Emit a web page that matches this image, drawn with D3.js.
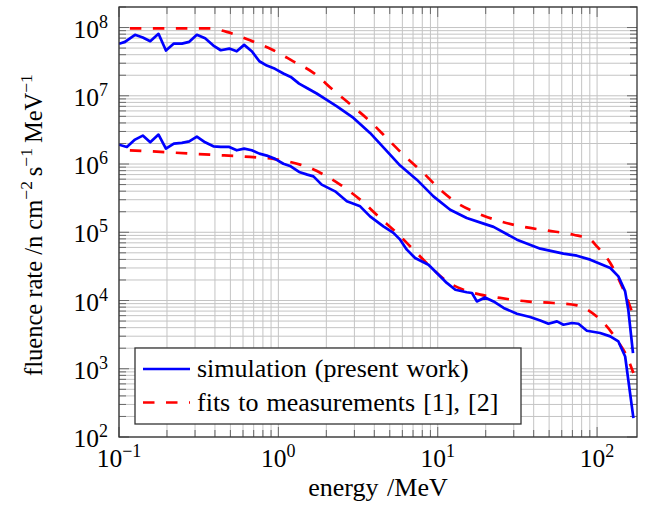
<!DOCTYPE html>
<html>
<head>
<meta charset="utf-8">
<script src="https://cdn.jsdelivr.net/npm/d3@7"></script>
<style>
  body { margin: 0; background: #fff; }
  svg { display: block; font-family: 'Liberation Serif', 'Times New Roman', serif; }
</style>
</head>
<body>
<div class="chart"></div>
<script>
// upper simulation curve
const simUpperE = [0.1, 0.109, 0.126, 0.141, 0.157, 0.177, 0.197, 0.221, 0.248, 0.276, 0.308, 0.347, 0.391, 0.435, 0.492, 0.548, 0.61, 0.681, 0.76, 0.846, 0.953, 1.075, 1.196, 1.349, 1.52, 1.74, 2.0, 2.33, 2.96, 3.76, 4.7, 5.81, 7.39, 9.4, 11.97, 15.2, 19.4, 22.4, 31.4, 44.0, 61.5, 74.7, 90.6, 121, 136, 150, 157, 168];
const simUpperF = [5.77e7, 6.17e7, 7.82e7, 7.13e7, 6.3e7, 8.09e7, 4.6e7, 5.82e7, 5.82e7, 6.17e7, 7.82e7, 6.97e7, 5.45e7, 4.65e7, 4.92e7, 4.49e7, 5.57e7, 4.49e7, 3.21e7, 2.77e7, 2.48e7, 2.12e7, 1.89e7, 1.51e7, 1.29e7, 1.08e7, 8.8e6, 7.0e6, 4.74e6, 2.86e6, 1.63e6, 9.5e5, 5.9e5, 3.36e5, 2.14e5, 1.62e5, 1.34e5, 1.2e5, 7.8e4, 5.75e4, 4.86e4, 4.54e4, 3.97e4, 3.0e4, 2.26e4, 1.36e4, 7.3e3, 1.7e3];

// lower simulation curve
const simLowerE = [0.1, 0.112, 0.126, 0.141, 0.157, 0.177, 0.197, 0.221, 0.248, 0.276, 0.308, 0.347, 0.391, 0.435, 0.492, 0.548, 0.61, 0.681, 0.76, 0.846, 0.953, 1.075, 1.196, 1.349, 1.52, 1.66, 1.87, 2.27, 2.69, 3.26, 3.76, 4.56, 5.27, 5.81, 6.4, 7.21, 8.75, 9.87, 11.4, 12.9, 15.2, 16.4, 17.6, 19.8, 22.4, 25.9, 31.4, 38.0, 44.0, 49.5, 56.0, 61.5, 69.5, 76.4, 86.3, 104.5, 121, 136, 150, 169];
const simLowerF = [1.92e6, 1.78e6, 2.28e6, 2.61e6, 2.08e6, 2.7e6, 1.68e6, 1.99e6, 2.04e6, 2.15e6, 2.52e6, 2.08e6, 1.82e6, 1.78e6, 1.78e6, 1.59e6, 1.68e6, 1.59e6, 1.42e6, 1.33e6, 1.19e6, 1.01e6, 9.25e5, 7.66e5, 7.0e5, 6.6e5, 4.99e5, 3.98e5, 2.84e5, 2.4e5, 1.71e5, 1.22e5, 9.8e4, 7.8e4, 5.56e4, 4.2e4, 3.35e4, 2.53e4, 1.81e4, 1.44e4, 1.32e4, 1.29e4, 9.7e3, 1.11e4, 9.7e3, 7.77e3, 6.4e3, 5.73e3, 5.11e3, 4.57e3, 4.94e3, 4.42e3, 4.68e3, 4.57e3, 3.61e3, 3.34e3, 2.98e3, 2.51e3, 1.51e3, 189];

// fits to measurements
const fitUpperE = [0.117, 0.372, 0.474, 0.664, 0.931, 1.24, 1.66, 2.21, 2.89, 3.76, 4.83, 6.15, 8.13, 10.35, 13.2, 17.6, 24.6, 34.5, 48.4, 71.1, 90.6, 99.7, 121, 140, 161, 169];
const fitUpperF = [9.7e7, 9.7e7, 8.65e7, 6.5e7, 4.65e7, 3.2e7, 2.17e7, 1.21e7, 7.18e6, 4.23e6, 2.35e6, 1.34e6, 7.4e5, 4.22e5, 2.69e5, 1.92e5, 1.45e5, 1.2e5, 1.06e5, 9.2e4, 7.8e4, 6.2e4, 3.55e4, 1.81e4, 8.2e3, 5.85e3];

const fitLowerE = [0.117, 0.199, 0.372, 0.664, 0.931, 1.37, 1.58, 1.92, 2.44, 3.26, 4.35, 5.53, 7.04, 8.96, 11.4, 14.5, 18.5, 24.6, 36.3, 53.2, 74.7, 90.6, 110, 133, 154, 169];
const fitLowerF = [1.59e6, 1.49e6, 1.37e6, 1.27e6, 1.19e6, 9.8e5, 8.8e5, 7.0e5, 4.99e5, 3.01e5, 1.62e5, 9.8e4, 5.56e4, 3.16e4, 1.91e4, 1.44e4, 1.22e4, 1.09e4, 9.7e3, 9.2e3, 8.5e3, 6.9e3, 4.68e3, 2.66e3, 1.51e3, 865];

const xTickExp = [-1, 0, 1, 2];
const yTickExp = [2, 3, 4, 5, 6, 7, 8];
const legendLabels = ['simulation (present work)', 'fits to measurements [1], [2]'];

const containerWidth = 652;
const containerHeight = 515;
const margin = { top: 7, right: 15, bottom: 78, left: 119 };
const graphWidth = containerWidth - margin.left - margin.right;
const graphHeight = containerHeight - margin.top - margin.bottom;

const svg = d3
  .select('.chart')
  .append('svg')
  .attr('width', containerWidth)
  .attr('height', containerHeight);

const graph = svg
  .append('g')
  .attr('transform', `translate(${margin.left}, ${margin.top})`);

const x = d3.scaleLog().domain([0.1, 178]).range([0, graphWidth]);
const y = d3.scaleLog().domain([100, 2e8]).range([graphHeight, 0]);

// minor + major values per decade
const minorValues = (exps, domain) => {
  const out = [];
  for (let e = exps[0]; e <= exps[exps.length - 1]; e++) {
    for (let m = 1; m <= 9; m++) {
      const v = m * Math.pow(10, e);
      if (v >= domain[0] && v <= domain[1] * 1.0001) out.push({ v, major: m === 1 });
    }
  }
  return out;
};
const xVals = minorValues(xTickExp, x.domain());
const yVals = minorValues(yTickExp, y.domain());

// grid
graph
  .append('g')
  .selectAll('line')
  .data(xVals)
  .enter()
  .append('line')
  .attr('x1', (d) => x(d.v))
  .attr('x2', (d) => x(d.v))
  .attr('y1', 0)
  .attr('y2', graphHeight)
  .attr('stroke', '#c4c4c4')
  .attr('stroke-width', 1);

graph
  .append('g')
  .selectAll('line')
  .data(yVals)
  .enter()
  .append('line')
  .attr('x1', 0)
  .attr('x2', graphWidth)
  .attr('y1', (d) => y(d.v))
  .attr('y2', (d) => y(d.v))
  .attr('stroke', '#c4c4c4')
  .attr('stroke-width', 1);

// inward ticks on all sides
const tickG = graph.append('g').attr('stroke', '#6a6a6a').attr('stroke-width', 1);
xVals.forEach((d) => {
  const len = d.major ? 10 : 7;
  tickG.append('line').attr('x1', x(d.v)).attr('x2', x(d.v)).attr('y1', graphHeight).attr('y2', graphHeight - len);
  tickG.append('line').attr('x1', x(d.v)).attr('x2', x(d.v)).attr('y1', 0).attr('y2', len);
});
yVals.forEach((d) => {
  const len = d.major ? 10 : 7;
  tickG.append('line').attr('x1', 0).attr('x2', len).attr('y1', y(d.v)).attr('y2', y(d.v));
  tickG.append('line').attr('x1', graphWidth).attr('x2', graphWidth - len).attr('y1', y(d.v)).attr('y2', y(d.v));
});

// curves
const zip = (es, fs) => es.map((e, i) => [e, fs[i]]);
const simLine = d3.line().x((d) => x(d[0])).y((d) => y(d[1]));
const fitLine = d3.line().x((d) => x(d[0])).y((d) => y(d[1])).curve(d3.curveMonotoneX);

const clip = svg.append('clipPath').attr('id', 'plot-clip');
clip.append('rect').attr('width', graphWidth).attr('height', graphHeight);
const curves = graph.append('g').attr('clip-path', 'url(#plot-clip)');

[zip(fitUpperE, fitUpperF), zip(fitLowerE, fitLowerF)].forEach((data) => {
  curves
    .append('path')
    .attr('d', fitLine(data))
    .attr('fill', 'none')
    .attr('stroke', '#ff0000')
    .attr('stroke-width', 2.7)
    .attr('stroke-dasharray', '11.5,11.5');
});
[zip(simUpperE, simUpperF), zip(simLowerE, simLowerF)].forEach((data) => {
  curves
    .append('path')
    .attr('d', simLine(data))
    .attr('fill', 'none')
    .attr('stroke', '#0000ff')
    .attr('stroke-width', 2.7)
    .attr('stroke-linejoin', 'round');
});

// frame
graph
  .append('rect')
  .attr('width', graphWidth)
  .attr('height', graphHeight)
  .attr('fill', 'none')
  .attr('stroke', '#333')
  .attr('stroke-width', 1.3);

// tick labels
const powerLabel = (sel, exp) => {
  sel.append('tspan').text('10');
  sel
    .append('tspan')
    .attr('dy', -10)
    .attr('font-size', 18)
    .text(exp < 0 ? '\u2212' + Math.abs(exp) : exp);
};

xTickExp.forEach((e) => {
  const t = graph
    .append('text')
    .attr('x', x(Math.pow(10, e)))
    .attr('y', graphHeight + 29.5)
    .attr('text-anchor', 'middle')
    .attr('font-size', 25.5)
    .attr('fill', '#000');
  powerLabel(t, e);
});
yTickExp.forEach((e) => {
  const t = graph
    .append('text')
    .attr('x', -11)
    .attr('y', y(Math.pow(10, e)) + 10)
    .attr('text-anchor', 'end')
    .attr('font-size', 25.5)
    .attr('fill', '#000');
  powerLabel(t, e);
});

// axis titles
svg
  .append('text')
  .attr('x', margin.left + graphWidth / 2)
  .attr('y', 495.5)
  .attr('text-anchor', 'middle')
  .attr('font-size', 26)
  .attr('word-spacing', 2)
  .text('energy /MeV');

const yTitle = svg
  .append('text')
  .attr('transform', `translate(42, ${margin.top + graphHeight / 2 + 3}) rotate(-90)`)
  .attr('text-anchor', 'middle')
  .attr('font-size', 24.5);
const yParts = [
  ['fluence rate /n cm', 0],
  ['\u22122', 1],
  ['\u2009s', 0],
  ['\u22121', 1],
  ['\u2009MeV', 0],
  ['\u22121', 1],
];
yParts.forEach(([txt, sup], i) => {
  const prevSup = i > 0 ? yParts[i - 1][1] : 0;
  yTitle
    .append('tspan')
    .attr('dy', sup ? -10 : prevSup ? 10 : 0)
    .attr('font-size', sup ? 17.5 : 24.5)
    .text(txt);
});

// legend
const legendGroup = svg.append('g').attr('transform', 'translate(135, 348)');
legendGroup
  .append('rect')
  .attr('width', 386)
  .attr('height', 76)
  .attr('fill', '#fff')
  .attr('stroke', '#333')
  .attr('stroke-width', 1.3);

legendLabels.forEach((label, i) => {
  const ly = 21 + i * 33.5;
  legendGroup
    .append('line')
    .attr('x1', 8)
    .attr('x2', 55)
    .attr('y1', ly)
    .attr('y2', ly)
    .attr('stroke', i === 0 ? '#0000ff' : '#ff0000')
    .attr('stroke-width', 2.7)
    .attr('stroke-dasharray', i === 0 ? null : '11.5,11.5');
  legendGroup
    .append('text')
    .attr('x', 62)
    .attr('y', ly + 8)
    .attr('font-size', 26)
    .attr('word-spacing', 1.5)
    .text(label);
});
</script>
</body>
</html>
